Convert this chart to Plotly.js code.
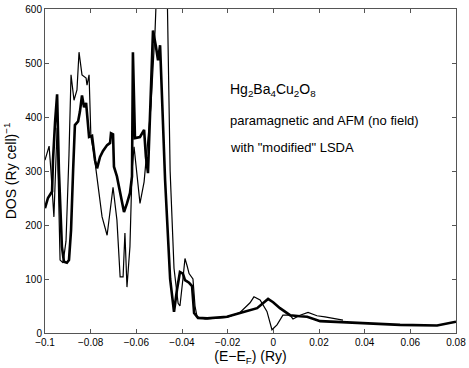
<!DOCTYPE html>
<html>
<head>
<meta charset="utf-8">
<script src="https://cdn.plot.ly/plotly-3.0.1.min.js"></script>
<style>
  body { margin: 0; background: #fff; }
  #plot { width: 469px; height: 368px; }
</style>
</head>
<body>
<div id="plot"></div>
<script>
// energy (Ry) and DOS values
const thickE = [-0.1000, -0.0987, -0.0969, -0.0965, -0.0956, -0.0947, -0.0939, -0.0926, -0.0917, -0.0904,
  -0.0895, -0.0886, -0.0877, -0.0869, -0.0855, -0.0847, -0.0838, -0.0829, -0.0820, -0.0807,
  -0.0794, -0.0781, -0.0772, -0.0759, -0.0746, -0.0728, -0.0715, -0.0711, -0.0702, -0.0698,
  -0.0685, -0.0671, -0.0654, -0.0641, -0.0628, -0.0619, -0.0615, -0.0606, -0.0584, -0.0566,
  -0.0558, -0.0549, -0.0540, -0.0527, -0.0514, -0.0505, -0.0496, -0.0474, -0.0452, -0.0435,
  -0.0422, -0.0409, -0.0396, -0.0387, -0.0369, -0.0356, -0.0347, -0.0330, -0.0290, -0.0203,
  -0.0146, -0.0071, -0.0023, -0.0001, 0.0029, 0.0073, 0.0117, 0.0148, 0.0205, 0.0305,
  0.0410, 0.0555, 0.0717, 0.0761, 0.0800];
const thickDOS = [231, 250, 262, 320, 390, 442, 300, 160, 132, 130,
  135, 190, 300, 385, 392, 410, 440, 418, 426, 363,
  365, 320, 305, 326, 337, 348, 352, 370, 368, 308,
  290, 259, 224, 240, 259, 290, 520, 361, 363, 376,
  326, 296, 400, 560, 530, 505, 533, 283, 100, 39,
  80, 113, 110, 98, 93, 87, 37, 28, 27, 30,
  37, 46, 63, 57, 46, 33, 31, 30, 22, 20,
  18, 15, 14, 17, 21];

const thinE = [-0.1000, -0.0982, -0.0974, -0.0961, -0.0947, -0.0934, -0.0921, -0.0908, -0.0895, -0.0886,
  -0.0873, -0.0860, -0.0851, -0.0838, -0.0820, -0.0816, -0.0807, -0.0799, -0.0785, -0.0772,
  -0.0750, -0.0728, -0.0702, -0.0685, -0.0671, -0.0658, -0.0650, -0.0641, -0.0628, -0.0619,
  -0.0610, -0.0584, -0.0566, -0.0549, -0.0536, -0.0518, -0.0496, -0.0479, -0.0452, -0.0435,
  -0.0417, -0.0409, -0.0396, -0.0387, -0.0378, -0.0369, -0.0352, -0.0343, -0.0334, -0.0299,
  -0.0203, -0.0146, -0.0102, -0.0085, -0.0058, -0.0028, -0.0006, 0.0016, 0.0042, 0.0073,
  0.0086, 0.0117, 0.0152, 0.0191, 0.0226, 0.0305];
const thinDOS = [320, 346, 300, 215, 380, 135, 130, 170, 330, 478,
  431, 450, 520, 478, 472, 459, 478, 363, 330, 283,
  215, 181, 270, 209, 104, 104, 185, 85, 160, 300,
  345, 240, 280, 360, 420, 560, 1000, 1000, 300, 120,
  55, 50, 100, 138, 125, 110, 100, 50, 30, 26,
  29, 38, 56, 67, 61, 40, 6, 15, 33, 33,
  26, 33, 38, 32, 30, 24];

const xTicks = [-0.1, -0.08, -0.06, -0.04, -0.02, 0, 0.02, 0.04, 0.06, 0.08];
const xTickText = ["\u22120.1", "\u22120.08", "\u22120.06", "\u22120.04", "\u22120.02", "0", "0.02", "0.04", "0.06", "0.08"];
const yTicks = [0, 100, 200, 300, 400, 500, 600];

const data = [
  {
    x: thinE, y: thinDOS, type: "scatter", mode: "lines",
    line: { color: "#000", width: 1.2 }, showlegend: false
  },
  {
    x: thickE, y: thickDOS, type: "scatter", mode: "lines",
    line: { color: "#000", width: 2.6 }, showlegend: false
  }
];

const axisStyle = {
  showline: true, linecolor: "#555", linewidth: 1, mirror: "ticks",
  ticks: "inside", ticklen: 4, tickcolor: "#555",
  showgrid: false, zeroline: false,
  tickfont: { size: 10, color: "#000" }
};

const layout = {
  width: 469, height: 368,
  margin: { l: 45, r: 13, t: 9, b: 35 },
  paper_bgcolor: "#fff", plot_bgcolor: "#fff",
  font: { family: "Liberation Sans, Arial, sans-serif", color: "#000" },
  xaxis: Object.assign({}, axisStyle, {
    range: [-0.1, 0.08], tickvals: xTicks, ticktext: xTickText,
    title: { text: "(E\u2212E<sub>F</sub>) (Ry)", font: { size: 14 }, standoff: 1 }
  }),
  yaxis: Object.assign({}, axisStyle, {
    range: [0, 600], tickvals: yTicks,
    title: { text: "DOS (Ry cell)<sup>\u22121</sup>", font: { size: 14 }, standoff: 5 }
  }),
  annotations: [
    { xref: "paper", yref: "paper", x: 0.445, y: 0.75, xanchor: "left", yanchor: "middle",
      text: "Hg<sub>2</sub>Ba<sub>4</sub>Cu<sub>2</sub>O<sub>8</sub>", showarrow: false, font: { size: 14 } },
    { xref: "paper", yref: "paper", x: 0.445, y: 0.657, xanchor: "left", yanchor: "middle",
      text: "paramagnetic and AFM (no field)", showarrow: false, font: { size: 13 } },
    { xref: "paper", yref: "paper", x: 0.445, y: 0.571, xanchor: "left", yanchor: "middle",
      text: "with \"modified\" LSDA", showarrow: false, font: { size: 13 } }
  ]
};

Plotly.newPlot("plot", data, layout, { displayModeBar: false, staticPlot: true });
</script>
</body>
</html>
